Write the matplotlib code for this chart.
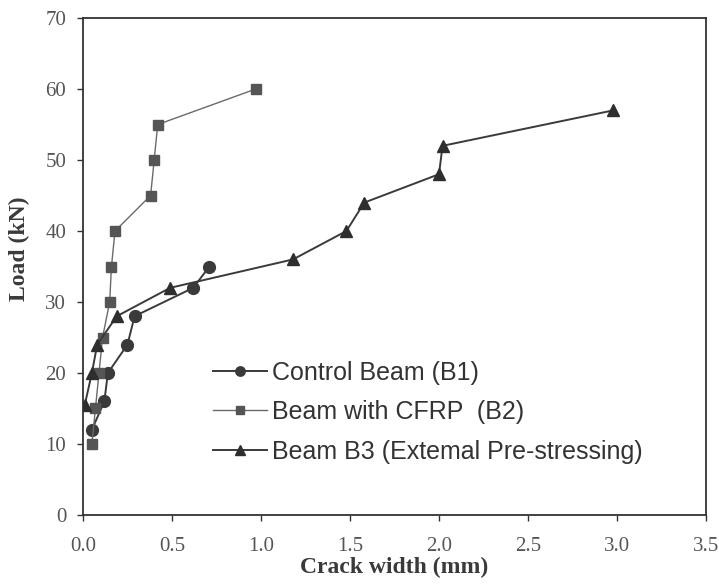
import matplotlib.pyplot as plt

# crack width (mm) / load (kN)
b1_crack = [0.05, 0.12, 0.14, 0.25, 0.29, 0.62, 0.71]
b1_load = [12, 16, 20, 24, 28, 32, 35]

b2_crack = [0.05, 0.07, 0.09, 0.11, 0.15, 0.16, 0.18, 0.38, 0.40, 0.42, 0.97]
b2_load = [10, 15, 20, 25, 30, 35, 40, 45, 50, 55, 60]

b3_crack = [0.01, 0.05, 0.08, 0.19, 0.49, 1.18, 1.48, 1.58, 2.00, 2.02, 2.98]
b3_load = [15.5, 20, 24, 28, 32, 36, 40, 44, 48, 52, 57]

labels = ["Control Beam (B1)", "Beam with CFRP  (B2)",
          "Beam B3 (Extemal Pre-stressing)"]

fig = plt.figure(figsize=(7.19, 5.86), dpi=100)
ax = fig.add_axes([0.1154, 0.1212, 0.8665, 0.848])

ax.plot(b1_crack, b1_load, color="#3a3a3a", lw=1.4, marker="o", ms=8.5,
        mfc="#3a3a3a", mec="#3a3a3a", label=labels[0])
ax.plot(b2_crack, b2_load, color="#6a6a6a", lw=1.0, marker="s", ms=7.5,
        mfc="#555555", mec="#555555", label=labels[1])
ax.plot(b3_crack, b3_load, color="#3a3a3a", lw=1.4, marker="^", ms=8.5,
        mfc="#2e2e2e", mec="#2e2e2e", label=labels[2])

ax.set_xlim(0, 3.5)
ax.set_ylim(0, 70)
ax.set_xticks([0.0, 0.5, 1.0, 1.5, 2.0, 2.5, 3.0, 3.5])
ax.set_yticks(range(0, 71, 10))
ax.set_xticklabels([f"{v:.1f}" for v in ax.get_xticks()])

for s in ax.spines.values():
    s.set_color("#333333")
    s.set_linewidth(1.3)
ax.tick_params(direction="out", length=4, width=1, colors="#333333",
               labelsize=15, labelcolor="#555555")
ax.tick_params(axis="x", pad=12)
ax.tick_params(axis="y", pad=8)
for t in ax.get_xticklabels() + ax.get_yticklabels():
    t.set_fontfamily("Liberation Serif")

ax.set_xlabel("Crack width (mm)", family="Liberation Serif", weight="bold",
              fontsize=17, color="#3a3a3a")
ax.xaxis.set_label_coords(0.5, -0.084)
ax.set_ylabel("Load (kN)", family="Liberation Serif", weight="bold",
              fontsize=17, color="#3a3a3a")
ax.yaxis.set_label_coords(-0.085, 0.535)

leg = ax.legend(loc="center left", bbox_to_anchor=(0.209, 0.207), frameon=False,
                prop={"family": "Liberation Sans", "size": 18},
                handlelength=2.15, handletextpad=0.2, labelspacing=0.62,
                borderpad=0, borderaxespad=0, markerscale=0.8)
for t in leg.get_texts():
    t.set_color("#333333")

fig.savefig("out.png", dpi=100)
